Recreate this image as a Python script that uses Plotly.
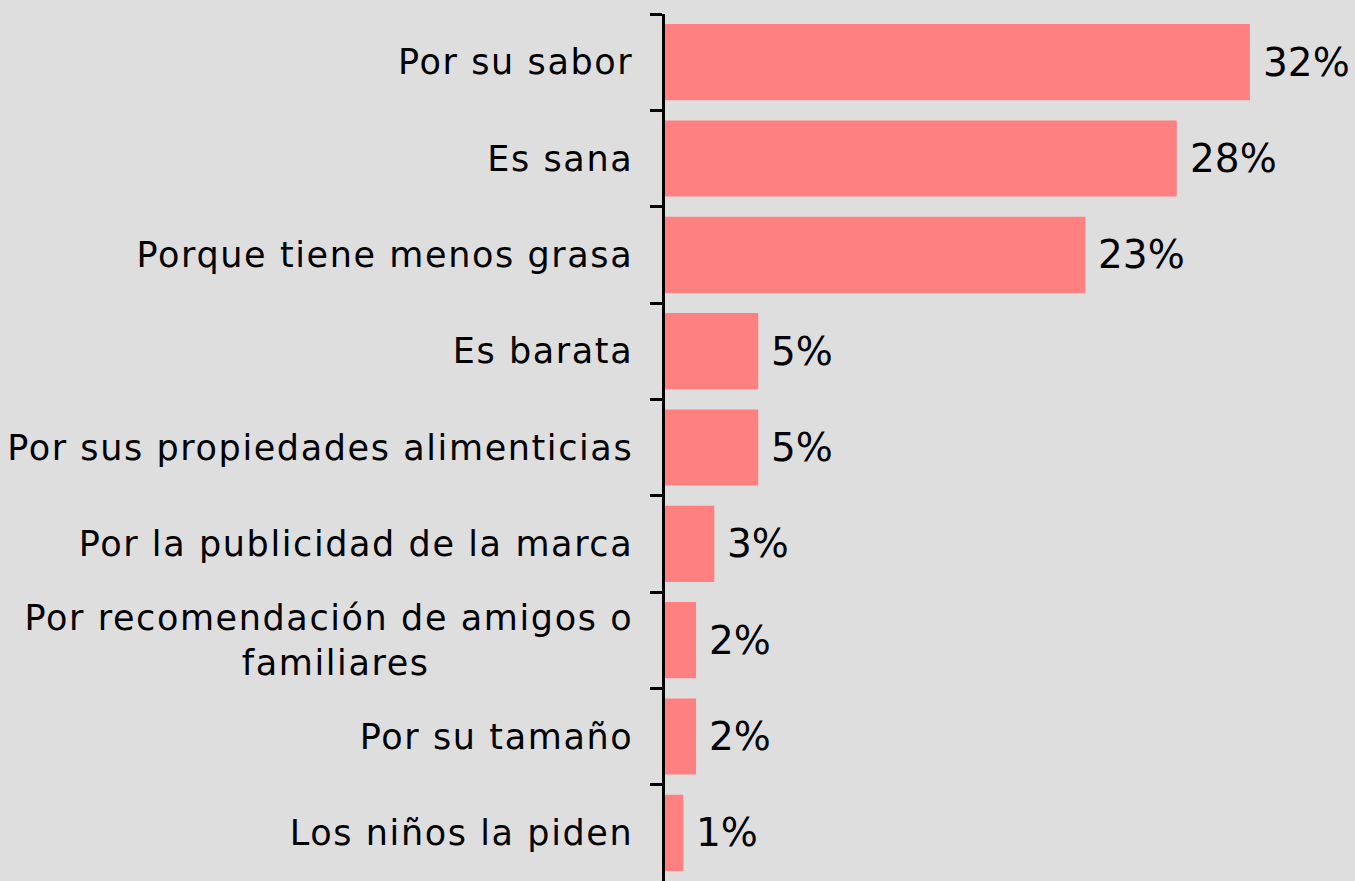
import plotly.graph_objects as go

NB = "\u00a0"
categories = [
    "Por su sabor",
    "Es sana",
    "Porque tiene menos grasa",
    "Es barata",
    "Por sus propiedades alimenticias",
    "Por la publicidad de la marca",
    "Por recomendación de amigos o<br>familiares" + NB * 16,
    "Por su tamaño",
    "Los niños la piden",
]
values = [32, 28, 23, 5.1, 5.1, 2.7, 1.7, 1.7, 1.0]
value_labels = ["32%", "28%", "23%", "5%", "5%", "3%", "2%", "2%", "1%"]

FONT = "Verdana, DejaVu Sans, sans-serif"

fig = go.Figure()
fig.add_trace(go.Bar(
    x=values,
    y=categories,
    orientation="h",
    marker=dict(color="#FF8080", line=dict(width=0)),
    hoverinfo="skip",
))

for v, c, t in zip(values, categories, value_labels):
    fig.add_annotation(
        x=v, y=c, text=t, showarrow=False,
        xanchor="left", yanchor="middle", xshift=11,
        font=dict(family=FONT, size=39, color="black"),
    )

fig.update_layout(
    width=1355, height=881,
    paper_bgcolor="#DEDEDE",
    plot_bgcolor="#DEDEDE",
    margin=dict(l=665, r=0, t=14, b=0),
    bargap=0.21,
    showlegend=False,
    xaxis=dict(
        range=[0, 37.75],
        visible=False,
        showgrid=False,
        zeroline=False,
    ),
    yaxis=dict(
        autorange="reversed",
        categoryorder="array",
        categoryarray=categories,
        showline=True,
        linecolor="black",
        linewidth=2.5,
        ticks="outside",
        tickson="boundaries",
        ticklen=12,
        tickwidth=2.5,
        tickcolor="black",
        showgrid=False,
        zeroline=False,
        ticklabelstandoff=22,
        tickfont=dict(family=FONT, size=35, color="black"),
    ),
)

post = """
document.body.style.margin = '0';
document.body.style.background = '#DEDEDE';
var st = document.createElement('style');
st.textContent = '.ytick text { letter-spacing: 1.6px; }';
document.head.appendChild(st);
"""

fig.write_html("out.html", post_script=post, config={"displayModeBar": False})
